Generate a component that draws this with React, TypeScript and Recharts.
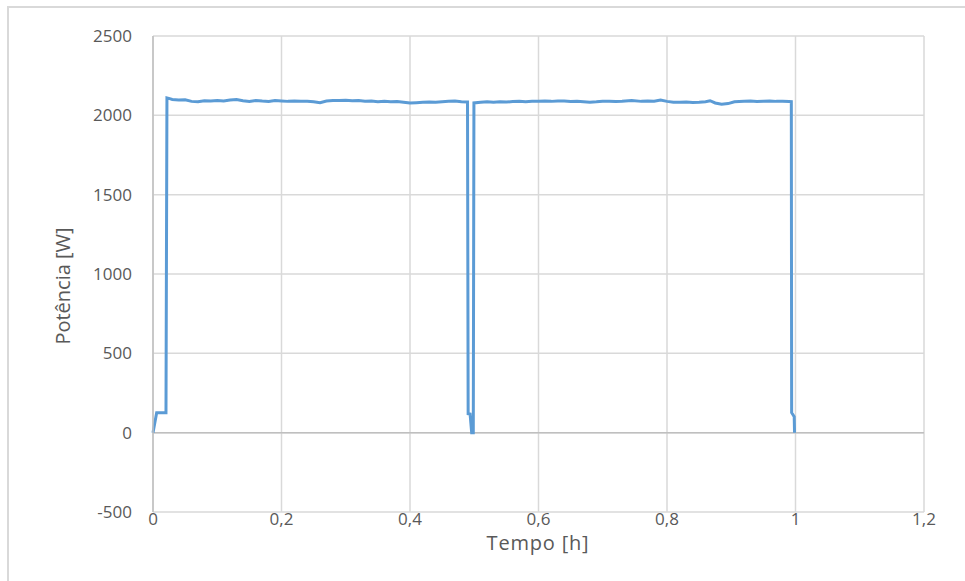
import React from 'react';
import {
  LineChart,
  Line,
  XAxis,
  YAxis,
  CartesianGrid,
  ReferenceLine,
  Label,
} from 'recharts';

// Tempo [h] and Potência [W]
const timeH = [
  0, 0.0057, 0.0202, 0.0217, 0.026, 0.03, 0.04, 0.05, 0.06, 0.07, 0.08, 0.09,
  0.1, 0.11, 0.12, 0.13, 0.14, 0.15, 0.16, 0.17, 0.18, 0.19, 0.2, 0.21, 0.22,
  0.23, 0.24, 0.25, 0.26, 0.27, 0.28, 0.29, 0.3, 0.31, 0.32, 0.33, 0.34, 0.35,
  0.36, 0.37, 0.38, 0.39, 0.4, 0.41, 0.42, 0.43, 0.44, 0.45, 0.46, 0.47, 0.48,
  0.4895, 0.4905, 0.4935, 0.496, 0.4985, 0.4995, 0.51, 0.52, 0.53, 0.54, 0.55,
  0.56, 0.57, 0.58, 0.59, 0.6, 0.61, 0.62, 0.63, 0.64, 0.65, 0.66, 0.67, 0.68,
  0.69, 0.7, 0.71, 0.72, 0.73, 0.745, 0.76, 0.77, 0.78, 0.79, 0.8, 0.81, 0.82,
  0.83, 0.84, 0.85, 0.86, 0.867, 0.875, 0.885, 0.895, 0.905, 0.92, 0.93, 0.94,
  0.95, 0.96, 0.97, 0.98, 0.99, 0.9935, 0.994, 0.998, 0.9985,
];
const powerW = [
  0, 126, 126, 2110, 2105, 2100, 2097, 2098, 2088, 2085, 2092, 2090,
  2093, 2091, 2096, 2099, 2092, 2088, 2094, 2090, 2087, 2093, 2091, 2088, 2090,
  2088, 2089, 2086, 2079, 2090, 2093, 2094, 2095, 2092, 2093, 2089, 2090, 2086,
  2088, 2085, 2087, 2083, 2078, 2080, 2082, 2084, 2083, 2086, 2088, 2090, 2086,
  2084, 120, 118, 0, 0, 2078, 2082, 2085, 2083, 2086, 2084,
  2087, 2088, 2086, 2089, 2088, 2090, 2088, 2091, 2090, 2087, 2089, 2086, 2083,
  2085, 2088, 2089, 2087, 2089, 2094, 2088, 2090, 2089, 2097, 2088, 2083, 2082,
  2084, 2081, 2083, 2086, 2092, 2078, 2070, 2074, 2086, 2088, 2090, 2087,
  2089, 2091, 2088, 2089, 2087, 2086, 126, 100, 0,
];
const xTicks = [0, 0.2, 0.4, 0.6, 0.8, 1, 1.2];
const yTicks = [-500, 0, 500, 1000, 1500, 2000, 2500];

const data = timeH.map((t, i) => ({ t, p: powerW[i] }));

const FONT = '"Open Sans", sans-serif';
const TEXT = '#595959';
const GRID = '#d9d9d9';

const fmtX = (v: number) => String(v).replace('.', ',');

export default function App() {
  return (
    <div
      style={{
        position: 'absolute',
        left: 0,
        top: 0,
        width: 965,
        height: 581,
        overflow: 'hidden',
        background: '#fff',
        fontFamily: FONT,
      }}
    >
      <div
        style={{
          position: 'absolute',
          left: 7,
          top: 6,
          width: 980,
          height: 620,
          border: `2px solid ${GRID}`,
        }}
      />
      <div style={{ position: 'absolute', left: 0, top: 0 }}>
        <LineChart
          width={965}
          height={581}
          data={data}
          margin={{ top: 36, right: 41, left: 0, bottom: 0 }}
        >
          <CartesianGrid stroke={GRID} strokeWidth={1.5} />
          <XAxis
            dataKey="t"
            type="number"
            domain={[0, 1.2]}
            ticks={xTicks}
            tickFormatter={fmtX}
            axisLine={false}
            tickLine={false}
            tickSize={0}
            tickMargin={1}
            height={69}
            tick={{ fill: TEXT, fontSize: 17, fontFamily: FONT }}
          >
            <Label
              content={() => (
                <text
                  x={538}
                  y={542}
                  textAnchor="middle"
                  dominantBaseline="central"
                  fill={TEXT}
                  fontSize={20}
                  letterSpacing={0.8}
                  fontFamily={FONT}
                >
                  Tempo [h]
                </text>
              )}
            />
          </XAxis>
          <YAxis
            type="number"
            domain={[-500, 2500]}
            ticks={yTicks}
            width={153}
            axisLine={{ stroke: '#bfbfbf', strokeWidth: 1.5 }}
            tickLine={false}
            tickSize={0}
            tickMargin={21}
            tick={{ fill: TEXT, fontSize: 17, fontFamily: FONT }}
          >
            <Label
              content={() => (
                <text
                  x={62}
                  y={286}
                  transform="rotate(-90 62 286)"
                  textAnchor="middle"
                  dominantBaseline="central"
                  fill={TEXT}
                  fontSize={20}
                  fontFamily={FONT}
                >
                  Potência [W]
                </text>
              )}
            />
          </YAxis>
          <ReferenceLine y={0} stroke="#bfbfbf" strokeWidth={1.5} />
          <Line
            type="linear"
            dataKey="p"
            stroke="#5b9bd5"
            strokeWidth={3}
            dot={false}
            isAnimationActive={false}
          />
        </LineChart>
      </div>
    </div>
  );
}
